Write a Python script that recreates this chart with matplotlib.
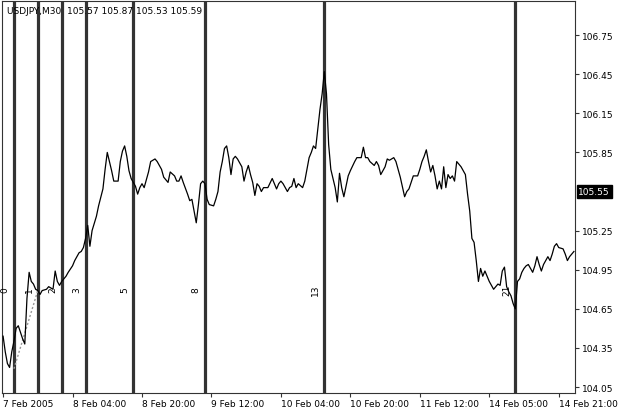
import matplotlib
matplotlib.use('Agg')
import matplotlib.pyplot as plt
import matplotlib.transforms as mtransforms

# bar index (M30 bars) and close prices
bars = [0, 1, 2, 3, 4, 5, 6, 7, 8, 9, 10, 11, 12, 13, 14, 15, 16, 17, 18, 20,
        21, 23, 24, 25, 26, 27, 28, 29, 30, 32, 33, 35, 36, 37, 38, 39, 40, 41,
        43, 44, 46, 47, 48, 49, 50, 51, 53, 54, 55, 56, 57, 58, 59, 60, 61, 62,
        63, 64, 65, 67, 68, 70, 71, 73, 74, 76, 77, 79, 80, 81, 82, 83, 85, 86,
        87, 88, 89, 90, 91, 92, 93, 94, 95, 97, 98, 99, 100, 101, 102, 103, 104,
        105, 106, 107, 108, 110, 111, 112, 113, 114, 115, 116, 117, 118, 119,
        120, 122, 124, 125, 126, 127, 128, 129, 131, 132, 133, 134, 135, 136,
        138, 139, 140, 141, 142, 143, 144, 145, 146, 147, 148, 149, 150, 151,
        153, 154, 155, 156, 157, 158, 159, 160, 162, 163, 165, 166, 167, 168,
        169, 171, 172, 173, 174, 176, 177, 178, 179, 180, 181, 182, 183, 185,
        186, 187, 188, 189, 191, 192, 193, 194, 195, 196, 197, 198, 199, 200,
        201, 202, 203, 204, 205, 206, 207, 208, 209, 210, 211, 212, 213, 214,
        215, 216, 217, 218, 219, 220, 221, 222, 223, 224, 225, 226, 227, 228,
        229, 230, 231, 232, 233, 234, 235, 236, 237, 238, 239, 240, 241, 242,
        243, 244, 245, 246, 247, 248, 249, 250, 251, 252, 253, 254, 255, 256,
        258, 259, 260, 261, 262, 263]
prices = [104.44, 104.32, 104.23, 104.20, 104.32, 104.40, 104.50, 104.52, 104.47, 104.42,
          104.38, 104.73, 104.93, 104.86, 104.84, 104.80, 104.79, 104.76, 104.79, 104.80,
          104.82, 104.80, 104.94, 104.86, 104.83, 104.86, 104.88, 104.90, 104.93, 104.98,
          105.02, 105.08, 105.09, 105.12, 105.19, 105.29, 105.13, 105.25, 105.36, 105.44,
          105.57, 105.72, 105.85, 105.78, 105.71, 105.63, 105.63, 105.78, 105.86, 105.90,
          105.82, 105.71, 105.65, 105.62, 105.59, 105.53, 105.58, 105.61, 105.58, 105.70,
          105.78, 105.80, 105.78, 105.72, 105.66, 105.62, 105.70, 105.67, 105.63, 105.63,
          105.67, 105.62, 105.53, 105.48, 105.49, 105.40, 105.31, 105.45, 105.61, 105.63,
          105.61, 105.49, 105.45, 105.44, 105.49, 105.55, 105.70, 105.78, 105.88, 105.90,
          105.81, 105.68, 105.80, 105.82, 105.80, 105.74, 105.63, 105.70, 105.75, 105.68,
          105.62, 105.52, 105.61, 105.59, 105.55, 105.58, 105.58, 105.65, 105.61, 105.57,
          105.61, 105.63, 105.61, 105.55, 105.58, 105.59, 105.65, 105.58, 105.61, 105.58,
          105.63, 105.72, 105.81, 105.85, 105.90, 105.88, 106.03, 106.18, 106.30, 106.47,
          106.30, 105.91, 105.72, 105.58, 105.47, 105.69, 105.58, 105.51, 105.59, 105.67,
          105.71, 105.78, 105.81, 105.81, 105.89, 105.81, 105.81, 105.78, 105.75, 105.78,
          105.75, 105.68, 105.74, 105.80, 105.79, 105.80, 105.81, 105.78, 105.72, 105.66,
          105.51, 105.55, 105.57, 105.62, 105.67, 105.67, 105.72, 105.78, 105.82, 105.87,
          105.78, 105.70, 105.75, 105.67, 105.57, 105.63, 105.57, 105.74, 105.58, 105.68,
          105.65, 105.67, 105.63, 105.78, 105.76, 105.74, 105.71, 105.68, 105.53, 105.40,
          105.19, 105.16, 105.02, 104.86, 104.96, 104.90, 104.94, 104.90, 104.86, 104.83,
          104.80, 104.82, 104.84, 104.83, 104.94, 104.97, 104.82, 104.78, 104.75, 104.69,
          104.65, 104.86, 104.88, 104.93, 104.96, 104.98, 104.99, 104.96, 104.93, 104.98,
          105.05, 104.99, 104.94, 104.99, 105.02, 105.05, 105.02, 105.07, 105.13, 105.15,
          105.12, 105.11, 105.07, 105.02, 105.05, 105.07, 105.09]

# Fibonacci time zones
fib_start = 5
fib_step = 11
fib_levels = [0, 1, 2, 3, 5, 8, 13, 21]
fib_base_bars = [5, 16]
fib_base_prices = [104.19, 104.79]

xtick_bars = [0, 32, 64, 96, 128, 160, 192, 224, 256]
xtick_labels = ['7 Feb 2005', '8 Feb 04:00', '8 Feb 20:00', '9 Feb 12:00',
                '10 Feb 04:00', '10 Feb 20:00', '11 Feb 12:00', '14 Feb 05:00',
                '14 Feb 21:00']
yticks = [104.05, 104.35, 104.65, 104.95, 105.25, 105.85, 106.15, 106.45, 106.75]
bid = 105.55
title = 'USDJPY,M30  105.57 105.87 105.53 105.59'

fs = 6.5

fig = plt.figure(figsize=(6.18, 4.14), dpi=100)
ax = fig.add_axes([2 / 618, 20 / 414, 573 / 618, 392 / 414])

for lv in fib_levels:
    xb = fib_start + fib_step * lv
    ax.axvline(xb, color='#333333', lw=2.3, zorder=2)
    ax.text(xb - 4, 104.80, str(lv), rotation=90, fontsize=fs,
            ha='center', va='center', color='black', zorder=4)

ax.plot(fib_base_bars, fib_base_prices, color='#999999', lw=1, ls=(0, (1.5, 1.5)), zorder=3)
ax.plot(bars, prices, color='black', lw=0.9, zorder=3)

ax.set_xlim(-0.5, 263.5)
ax.set_ylim(104.004, 107.012)

ax.set_xticks(xtick_bars)
ax.set_xticklabels(xtick_labels, ha='left', fontsize=fs)
ax.yaxis.tick_right()
ax.set_yticks(yticks)
ax.set_yticklabels(['%.2f' % v for v in yticks], fontsize=fs)
ax.tick_params(axis='both', length=3, width=0.8, color='#333333', pad=2)
ax.tick_params(axis='x', pad=1)
for s in ax.spines.values():
    s.set_color('#333333')
    s.set_linewidth(0.8)

# current bid label on the price axis
trans = mtransforms.blended_transform_factory(ax.transAxes, ax.transData)
ax.text(1.006, bid, '105.55', transform=trans, fontsize=fs, color='white',
        ha='left', va='center',
        bbox=dict(boxstyle='square,pad=0.2', fc='black', ec='black'))

ax.text(0.008, 0.975, title, transform=ax.transAxes, fontsize=fs,
        ha='left', va='center', color='black')

plt.savefig('out.png', dpi=100)
